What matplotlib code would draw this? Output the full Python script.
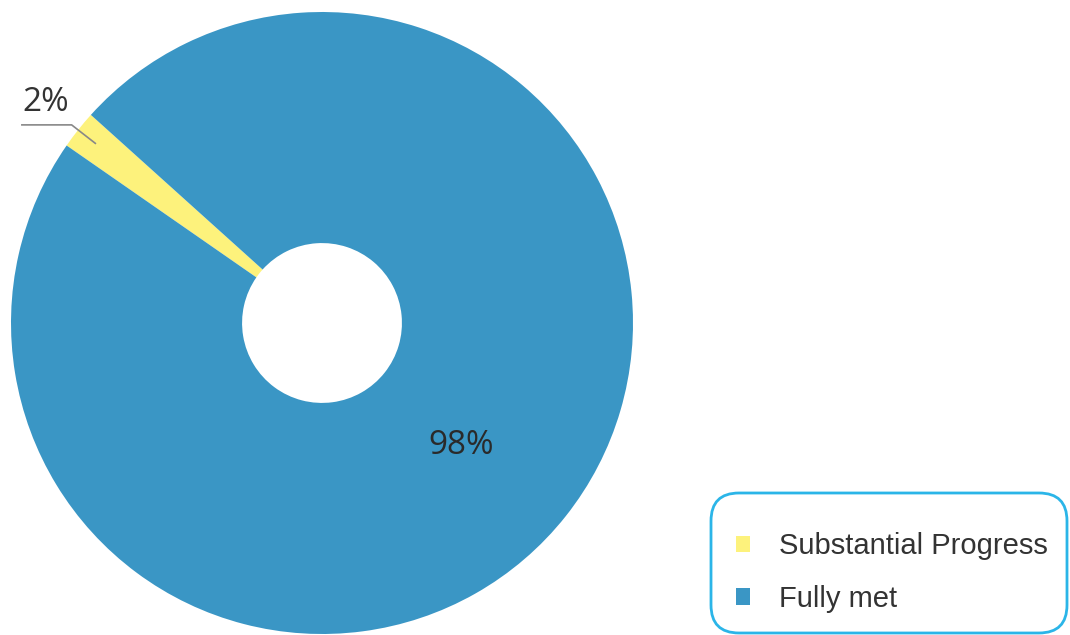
import numpy as np
import matplotlib
matplotlib.use("Agg")
import matplotlib.pyplot as plt
from matplotlib.patches import FancyBboxPatch
from matplotlib.transforms import IdentityTransform

labels = ["Substantial Progress", "Fully met"]
values = [2, 98]
colors = ["#FDF27C", "#3A96C5"]
start = 138

fig = plt.figure(figsize=(10.7, 6.35), dpi=100)
ax = fig.add_axes([11 / 1070, 1 / 635, 622 / 1070, 622 / 635])
wedges, _ = ax.pie(values, colors=colors, startangle=start, counterclock=True,
                   radius=1.0, wedgeprops=dict(width=0.743, linewidth=0))
ax.set_xlim(-1, 1)
ax.set_ylim(-1, 1)
ax.set_aspect("equal")
ax.axis("off")

# angle at the middle of each wedge
total = sum(values)
mids = []
a = start
for v in values:
    mids.append(a + 360 * v / total / 2)
    a += 360 * v / total

# small slice: label outside with an underlined leader
th = np.radians(mids[0])
px, py = 0.93 * np.cos(th), 0.93 * np.sin(th)
ax.text(-0.965, 0.655, f"{values[0]}%", fontsize=24, family="Open Sans",
        color="#333333", ha="left", va="bottom")
ax.plot([-0.965, -0.805, px], [0.637, 0.637, py], color="#888888", lw=1.2,
        clip_on=False)

# big slice: label inside the ring
th = np.radians(mids[1])
ax.text(0.6 * np.cos(th) - 0.022, 0.6 * np.sin(th) - 0.02, f"{values[1]}%",
        fontsize=24, family="Open Sans", color="#2a2a2a",
        ha="center", va="center")

leg = fig.legend(wedges, labels, loc="upper left",
                 bbox_to_anchor=(736 / 1070, 1 - 532 / 635),
                 fontsize=21, frameon=False,
                 handlelength=0.48, handleheight=0.48, handletextpad=1.0,
                 labelspacing=0.85, borderpad=0, borderaxespad=0)
for t in leg.get_texts():
    t.set_color("#333333")
    t.set_family("Liberation Sans")

# rounded legend frame, in pixels
box = FancyBboxPatch((711, 2), 356, 140, boxstyle="round,pad=0,rounding_size=28",
                     transform=IdentityTransform(), facecolor="none",
                     edgecolor="#2BB5E8", linewidth=2)
fig.add_artist(box)

fig.savefig("out.png", dpi=100)
